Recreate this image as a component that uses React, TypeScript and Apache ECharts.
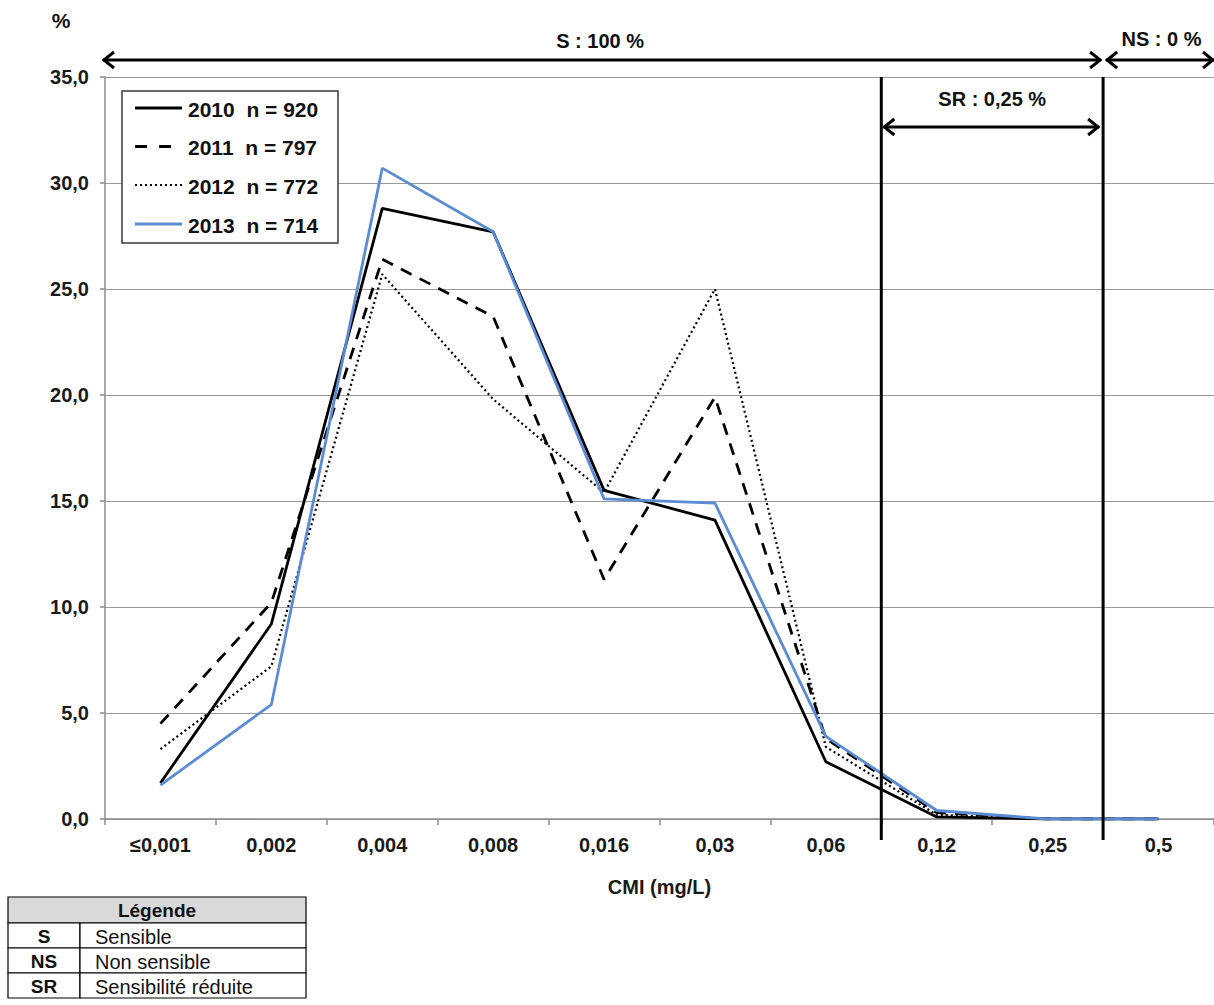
import { useEffect, useRef } from 'react';
import * as echarts from 'echarts';

const categories = ['≤0,001', '0,002', '0,004', '0,008', '0,016', '0,03', '0,06', '0,12', '0,25', '0,5'];
const years = ['2010', '2011', '2012', '2013'];
const counts = [920, 797, 772, 714];
const s2010 = [1.7, 9.2, 28.8, 27.7, 15.5, 14.1, 2.7, 0.1, 0, 0];
const s2011 = [4.5, 10.2, 26.4, 23.7, 11.3, 19.9, 3.8, 0.3, 0, 0];
const s2012 = [3.3, 7.2, 25.7, 19.8, 15.4, 25.0, 3.4, 0.2, 0, 0];
const s2013 = [1.6, 5.4, 30.7, 27.7, 15.1, 14.9, 3.9, 0.4, 0, 0];
const seriesValues = [s2010, s2011, s2012, s2013];
const yMin = 0;
const yMax = 35;
const yInterval = 5;
const labelS = 'S : 100 %';
const labelNS = 'NS : 0 %';
const labelSR = 'SR : 0,25 %';
const axisNameX = 'CMI (mg/L)';
const axisNameY = '%';
const tableTitle = 'Légende';
const tableCodes = ['S', 'NS', 'SR'];
const tableMeanings = ['Sensible', 'Non sensible', 'Sensibilité réduite'];
// SR zone between 0,06 and 0,12 ; NS zone starts between 0,25 and 0,5
const srStartIdx = 6;
const nsStartIdx = 8;

const FONT = '"Liberation Sans", Arial, sans-serif';
const lineStyles = [
  { color: '#000000', width: 2.8, type: 'solid' as any },
  { color: '#000000', width: 2.8, type: [12, 9] as any },
  { color: '#000000', width: 2.2, type: [2, 3] as any },
  { color: '#5b8bd3', width: 2.8, type: 'solid' as any },
];

export default function App() {
  const ref = useRef<HTMLDivElement>(null);
  useEffect(() => {
    document.body.style.margin = '0';
    const chart = echarts.init(ref.current!, undefined, { renderer: 'svg' });
    chart.setOption({
      animation: false,
      backgroundColor: '#ffffff',
      grid: { left: 105, right: 0, top: 77, bottom: 186 },
      xAxis: {
        type: 'category',
        data: categories,
        boundaryGap: true,
        name: axisNameX,
        nameLocation: 'middle',
        nameGap: 58,
        nameTextStyle: { fontFamily: FONT, fontWeight: 'bold', fontSize: 20, color: '#1a1a1a' },
        axisLine: { show: true, lineStyle: { color: '#8c8c8c', width: 1.5 } },
        axisTick: { show: true, length: 6, lineStyle: { color: '#8c8c8c', width: 1.5 } },
        axisLabel: { margin: 16, fontFamily: FONT, fontWeight: 'bold', fontSize: 20, color: '#1a1a1a' },
        splitLine: { show: false },
      },
      yAxis: {
        type: 'value',
        min: yMin,
        max: yMax,
        interval: yInterval,
        axisLine: { show: true, lineStyle: { color: '#8c8c8c', width: 1.5 } },
        axisTick: { show: true, length: 5, lineStyle: { color: '#8c8c8c', width: 1.5 } },
        axisLabel: {
          margin: 16,
          fontFamily: FONT,
          fontWeight: 'bold',
          fontSize: 20,
          color: '#1a1a1a',
          formatter: (v: number) => v.toFixed(1).replace('.', ','),
        },
        splitLine: { show: true, lineStyle: { color: '#9a9a9a', width: 1.2 } },
      },
      series: years.map((y, i) => ({
        name: y,
        type: 'line',
        data: seriesValues[i],
        symbol: 'none',
        lineStyle: lineStyles[i],
        itemStyle: { color: lineStyles[i].color },
        z: i === 3 ? 4 : 3,
      })),
    });

    const xPix = (i: number) => chart.convertToPixel({ xAxisIndex: 0 }, categories[i]) as number;
    const yPix = (v: number) => chart.convertToPixel({ yAxisIndex: 0 }, v) as number;
    const band = xPix(1) - xPix(0);
    const plotLeft = xPix(0) - band / 2;
    const plotRight = xPix(categories.length - 1) + band / 2;
    const srX = (xPix(srStartIdx) + xPix(srStartIdx + 1)) / 2;
    const nsX = (xPix(nsStartIdx) + xPix(nsStartIdx + 1)) / 2;
    const yTop = yPix(yMax);
    const yBottom = yPix(yMin);
    const topArrowY = yTop - 17;
    const srArrowY = yTop + 50;
    const black = '#000000';
    const lw = 3;

    const arrowLine = (x1: number, x2: number, y: number) => [
      { type: 'line', shape: { x1, y1: y, x2, y2: y }, style: { stroke: black, lineWidth: lw }, z: 20 },
      {
        type: 'polyline',
        shape: { points: [[x1 + 11, y - 8], [x1 + 1, y], [x1 + 11, y + 8]] },
        style: { stroke: black, lineWidth: lw, fill: 'none' },
        z: 20,
      },
      {
        type: 'polyline',
        shape: { points: [[x2 - 11, y - 8], [x2 - 1, y], [x2 - 11, y + 8]] },
        style: { stroke: black, lineWidth: lw, fill: 'none' },
        z: 20,
      },
    ];

    const textEl = (text: string, x: number, y: number, align: string, weight: string, size: number) => ({
      type: 'text',
      x,
      y,
      style: {
        text,
        x: 0,
        y: 0,
        align,
        verticalAlign: 'middle',
        fontFamily: FONT,
        fontWeight: weight,
        fontSize: size,
        fill: '#111',
      },
      z: 30,
    });

    // manual legend box
    const lgX = 122;
    const lgY = 91;
    const lgW = 216;
    const lgH = 152;
    const rowYs = [108, 146.5, 185, 224];
    const legend: any[] = [
      {
        type: 'rect',
        shape: { x: lgX, y: lgY, width: lgW, height: lgH },
        style: { fill: '#ffffff', stroke: '#3a3a3a', lineWidth: 1.5 },
        z: 25,
      },
    ];
    years.forEach((yr, i) => {
      const ry = rowYs[i];
      const st = lineStyles[i];
      legend.push({
        type: 'line',
        shape: { x1: lgX + 13, y1: ry, x2: lgX + 60, y2: ry },
        style: {
          stroke: st.color,
          lineWidth: st.width,
          lineDash: i === 1 ? [12, 12] : i === 2 ? [2, 3] : null,
        },
        z: 26,
      });
      legend.push(textEl(`${yr}\u00a0\u00a0n = ${counts[i]}`, lgX + 66, ry + 1, 'left', 'bold', 21));
    });

    // legend table
    const tX = 8;
    const tY = 897;
    const tW = 298;
    const rowH = 25;
    const colX = 80;
    const table: any[] = [];
    table.push({
      type: 'rect',
      shape: { x: tX, y: tY, width: tW, height: rowH + 1 },
      style: { fill: '#d9d9d9', stroke: '#000', lineWidth: 1.2 },
    });
    table.push(textEl(tableTitle, tX + tW / 2, tY + rowH / 2 + 1, 'center', 'bold', 19));
    tableCodes.forEach((c, i) => {
      const ry = tY + rowH + 1 + i * rowH;
      table.push({
        type: 'rect',
        shape: { x: tX, y: ry, width: colX - tX, height: rowH },
        style: { fill: '#fff', stroke: '#000', lineWidth: 1.2 },
      });
      table.push({
        type: 'rect',
        shape: { x: colX, y: ry, width: tX + tW - colX, height: rowH },
        style: { fill: '#fff', stroke: '#000', lineWidth: 1.2 },
      });
      table.push(textEl(c, (tX + colX) / 2, ry + rowH / 2 + 1, 'center', 'bold', 19));
      table.push(textEl(tableMeanings[i], colX + 15, ry + rowH / 2 + 1, 'left', 'normal', 20));
    });

    chart.setOption({
      graphic: [
        textEl(axisNameY, 61, 20, 'center', 'bold', 21),
        ...arrowLine(plotLeft - 2, nsX - 2, topArrowY),
        ...arrowLine(nsX + 3, plotRight, topArrowY),
        ...arrowLine(srX + 2, nsX - 4, srArrowY),
        textEl(labelS, (plotLeft + nsX) / 2 - 4, topArrowY - 19, 'center', 'bold', 20),
        textEl(labelNS, (nsX + plotRight) / 2 + 3, topArrowY - 21, 'center', 'bold', 20),
        textEl(labelSR, (srX + nsX) / 2, srArrowY - 28, 'center', 'bold', 20),
        { type: 'line', shape: { x1: srX, y1: yTop, x2: srX, y2: yBottom + 21 }, style: { stroke: black, lineWidth: lw }, z: 15 },
        { type: 'line', shape: { x1: nsX, y1: yTop, x2: nsX, y2: yBottom + 21 }, style: { stroke: black, lineWidth: lw }, z: 15 },
        ...legend,
        ...table,
      ],
    });
    return () => chart.dispose();
  }, []);
  return <div ref={ref} style={{ width: 1214, height: 1005 }} />;
}
